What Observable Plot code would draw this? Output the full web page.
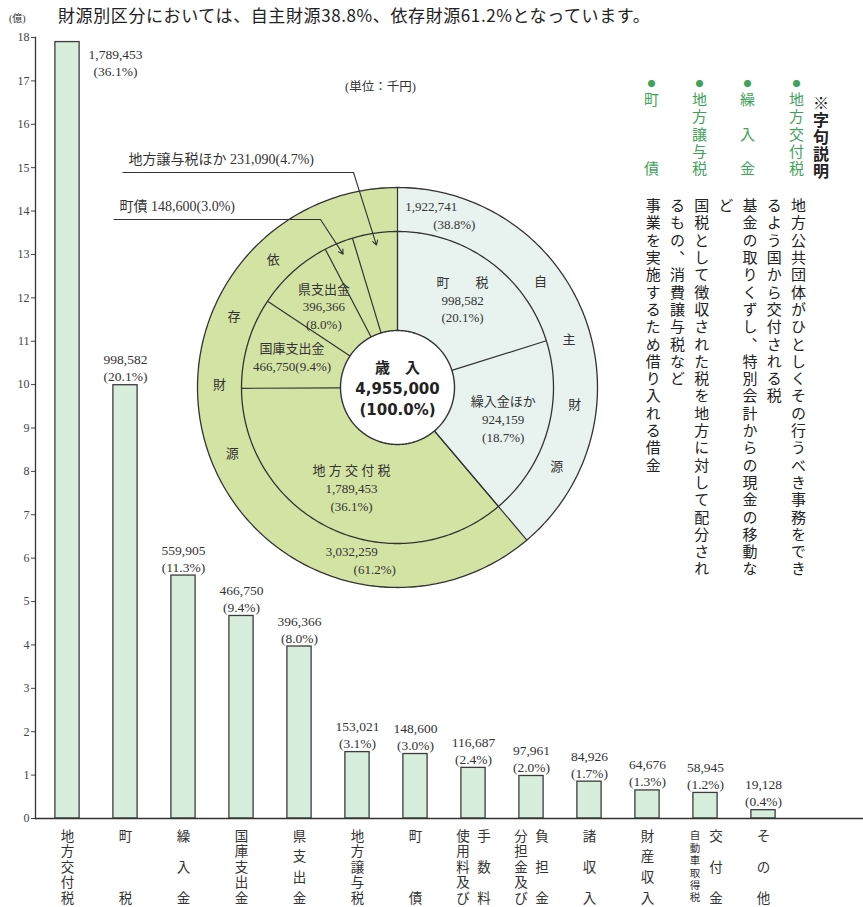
<!DOCTYPE html>
<html><head><meta charset="utf-8">
<script src="https://cdn.jsdelivr.net/npm/d3@7"></script>
<script src="https://cdn.jsdelivr.net/npm/@observablehq/plot@0.6"></script>
<style>
body{margin:0;background:#fff;}
#wrap{position:relative;width:863px;height:907px;overflow:hidden;font-family:"Noto Sans CJK JP",sans-serif;background:#fff;}
#bars,#pie{position:absolute;left:0;top:0;}
.abs{position:absolute;white-space:nowrap;}
.vcol{position:absolute;writing-mode:vertical-rl;font-size:15px;letter-spacing:2.3px;white-space:nowrap;color:#222;}
.g{color:#3fa45a;}
.dot{font-size:8px;letter-spacing:4px;}
</style></head><body>
<div id="wrap">
  <div id="bars"></div>
  <div id="pie"></div>
  <div class="abs" style="left:9px;top:10px;font-size:10px;color:#333;font-family:'Liberation Serif','Noto Sans CJK JP',serif;">(億)</div>
  <div class="abs" style="left:58px;top:4px;font-size:17px;letter-spacing:0.6px;line-height:22px;color:#222;">財源別区分においては、自主財源38.8%、依存財源61.2%となっています。</div>
  <div class="abs" style="left:345px;top:79px;font-size:12.5px;line-height:16px;color:#333;font-family:'Liberation Serif','Noto Sans CJK JP',serif;">(単位：千円)</div>
  <div class="vcol" style="left:809px;top:95px;font-weight:bold;font-size:16px;letter-spacing:1px;">※字句説明</div>
  <div class="vcol g" style="left:786px;top:80px;"><span class="dot">●</span>地方交付税</div>
  <div class="vcol g" style="left:737px;top:80px;"><span class="dot">●</span>繰　入　金</div>
  <div class="vcol g" style="left:689px;top:80px;"><span class="dot">●</span>地方譲与税</div>
  <div class="vcol g" style="left:641px;top:80px;"><span class="dot">●</span>町　　　債</div>
  <div class="vcol" style="left:640px;top:198px;width:170px;line-height:24.2px;height:420px;">地方公共団体がひとしくその行うべき事務をでき<br>るよう国から交付される税<br>基金の取りくずし、特別会計からの現金の移動な<br>ど<br>国税として徴収された税を地方に対して配分され<br>るもの、消費譲与税など<br>事業を実施するため借り入れる借金</div>
</div>
<script>
// ---- bar chart data (千円) ----
const categories = ["地方交付税","町税","繰入金","国庫支出金","県支出金","地方譲与税","町債","使用料及び手数料","分担金及び負担金","諸収入","財産収入","自動車取得税交付金","その他"];
const values = [1789453, 998582, 559905, 466750, 396366, 153021, 148600, 116687, 97961, 84926, 64676, 58945, 19128];
const shares = [36.1, 20.1, 11.3, 9.4, 8.0, 3.1, 3.0, 2.4, 2.0, 1.7, 1.3, 1.2, 0.4];
const tickLabelColumns = [["地方交付税"],["町税"],["繰入金"],["国庫支出金"],["県支出金"],["地方譲与税"],["町債"],["使用料及び","手数料"],["分担金及び","負担金"],["諸収入"],["財産収入"],["自動車取得税","交付金"],["その他"]];
const yTicks = [0,1,2,3,4,5,6,7,8,9,10,11,12,13,14,15,16,17,18];

// ---- pie data (千円) ----
const pieNames = ["町税","繰入金ほか","地方交付税","国庫支出金","県支出金","町債","地方譲与税ほか"];
const pieCaptions = ["町　　税","繰入金ほか","地 方 交 付 税","国庫支出金","県支出金","町債","地方譲与税ほか"];
const pieValues = [998582, 924159, 1789453, 466750, 396366, 148600, 231090];
const pieShares = [20.1, 18.7, 36.1, 9.4, 8.0, 3.0, 4.7];
const pieSource = ["自主財源","自主財源","依存財源","依存財源","依存財源","依存財源","依存財源"];
const sourceNames = ["自主財源","依存財源"];
const sourceValues = [1922741, 3032259];
const sourceShares = [38.8, 61.2];
const totalValue = 4955000;
const totalShare = 100.0;

const W = 863, H = 907;
const serif = '"Liberation Serif","Noto Sans CJK JP",serif';
const sans = '"Noto Sans CJK JP",sans-serif';
const fmt = d3.format(",");
const pct = v => `(${v.toFixed(1)}%)`;

// ================= bar chart =================
const barData = categories.map((c, i) => ({category: c, value: values[i], share: shares[i], oku: values[i] / 100000}));
const valueLabel = d => `${fmt(d.value)}\n${pct(d.share)}`;

const colItems = [];
tickLabelColumns.forEach((cols, i) => {
  cols.forEach((s, j) => {
    const chars = [...s];
    const off = cols.length === 1 ? 0 : (j === 0 ? -10.5 : 10.5);
    colItems.push({category: categories[i], text: chars.join("\n"), n: chars.length, off});
  });
});
// vertical tick labels: first glyph centred 17px below the baseline, last one SPAN px lower
const SPAN = 62, FS = 13.5, FIRST = 17;
const labelMarks = [];
for (const [n, byOff] of d3.groups(colItems, d => d.n, d => d.off)) {
  for (const [off, items] of byOff) {
    const fs = n > 5 ? 10.5 : FS;
    const step = n > 1 ? SPAN / (n - 1) : fs;
    labelMarks.push(Plot.text(items, {
      x: "category", y: () => 0, text: "text", dx: off,
      dy: FIRST + 0.38 * fs - 0.71 * step,
      lineAnchor: "top", lineHeight: step / fs,
      fontSize: fs, fill: "#333", fontFamily: sans
    }));
  }
}

const bars = Plot.plot({
  width: W, height: H,
  marginTop: 37, marginBottom: 89, marginLeft: 35, marginRight: 0,
  style: {fontFamily: serif, color: "#444", background: "transparent"},
  x: {domain: categories, range: [33.6, 796.7], padding: 0, axis: null},
  y: {domain: [0, 18], axis: null},
  marks: [
    Plot.barY(barData, {x: "category", y: "oku", fill: "#d7eedd", stroke: "#3b3b3b", strokeWidth: 1.3, insetLeft: 16.9, insetRight: 16.9}),
    Plot.text(barData.slice(1), {x: "category", y: "oku", text: valueLabel, lineAnchor: "bottom", dy: -4, fontSize: 13.5, lineHeight: 1.26, fill: "#333", fontFamily: serif}),
    Plot.text(barData.slice(0, 1), {x: "category", y: "oku", text: valueLabel, lineAnchor: "top", dx: 48, dy: 5, fontSize: 13.5, lineHeight: 1.26, fill: "#333", fontFamily: serif}),
    Plot.axisY({ticks: yTicks, tickSize: 4, tickPadding: 2, label: null, fontSize: 12, fontFamily: serif}),
    Plot.frame({anchor: "left", stroke: "#333", strokeWidth: 1.3}),
    Plot.ruleY([0], {stroke: "#333", strokeWidth: 1.3}),
    ...labelMarks
  ]
});
document.getElementById("bars").append(bars);

// ================= pie chart =================
const R = 200, CX = 397, CY = 387;
const R0 = 0.285, R1 = 0.78, R2 = 1;
const pieGen = d3.pie().sort(null).startAngle(0).endAngle(2 * Math.PI);
const innerArcs = pieGen(pieValues);
const outerArcs = pieGen(sourceValues);
const sourceColor = {"自主財源": "#e8f3ef", "依存財源": "#d3e3a4"};
const P = (a, r) => ({x: r * Math.sin(a), y: r * Math.cos(a)});
const deg = d => d * Math.PI / 180;

function ring(id, a0, a1, r0, r1, fill) {
  const n = Math.max(2, Math.ceil((a1 - a0) / 0.01));
  const out = [];
  for (let k = 0; k <= n; k++) out.push({id, fill, ...P(a0 + (a1 - a0) * k / n, r1)});
  for (let k = n; k >= 0; k--) out.push({id, fill, ...P(a0 + (a1 - a0) * k / n, r0)});
  return out;
}
function circle(id, r) {
  const out = [];
  for (let k = 0; k < 360; k++) out.push({id, ...P(deg(k), r)});
  return out;
}
const polys = [
  ...outerArcs.flatMap((a, i) => ring("o" + i, a.startAngle, a.endAngle, R1, R2, sourceColor[sourceNames[i]])),
  ...innerArcs.flatMap((a, i) => ring("i" + i, a.startAngle, a.endAngle, R0, R1, sourceColor[pieSource[i]]))
];
const circles = [...circle("c2", R2), ...circle("c1", R1)];
const hole = circle("c0", R0);
const dividers = [
  ...innerArcs.map(a => ({a: a.startAngle, r0: R0, r1: R1})),
  ...outerArcs.map(a => ({a: a.startAngle, r0: R0, r1: R2}))
];

const innerLabels = innerArcs.slice(0, 5).map((a, i) => {
  const p = P((a.startAngle + a.endAngle) / 2, 0.55);
  const text = pieNames[i] === "国庫支出金"
    ? `${pieCaptions[i]}\n${fmt(pieValues[i])}${pct(pieShares[i])}`
    : `${pieCaptions[i]}\n${fmt(pieValues[i])}\n${pct(pieShares[i])}`;
  return {...p, text};
});

// leader annotations for the two thin slices
const leaderLayout = [
  {slice: 6, elbow: {x: -0.22, y: 1.075}, start: -1.375},
  {slice: 5, elbow: {x: -0.385, y: 0.84}, start: -1.42}
];
const leaders = leaderLayout.map(L => {
  const a = innerArcs[L.slice];
  const tip = P((a.startAngle + a.endAngle) / 2, 0.72);
  return {
    x0: L.start, y0: L.elbow.y, ex: L.elbow.x, ey: L.elbow.y, tx: tip.x, ty: tip.y,
    text: `${pieNames[L.slice]} ${fmt(pieValues[L.slice])}${pct(pieShares[L.slice])}`
  };
});

// outer ring value labels
const sourceLabelAngles = [14, 192];
const sourceLabels = outerArcs.map((a, i) => ({...P(deg(sourceLabelAngles[i]), 0.885), v: fmt(sourceValues[i]), s: pct(sourceShares[i])}));
// ring characters 自主財源 / 依存財源
const ringCenter = [85, 282], ringStep = [21, -22.5];
const ringChars = sourceNames.flatMap((name, i) => [...name].map((ch, k) => ({ch, ...P(deg(ringCenter[i] + ringStep[i] * (k - 1.5)), 0.89)})));

const centerLines = [
  {text: "歳　入", y: 0.095},
  {text: fmt(totalValue), y: -0.01},
  {text: pct(totalShare), y: -0.115}
];

const pie = Plot.plot({
  width: W, height: H, margin: 0,
  style: {background: "transparent", fontFamily: serif},
  x: {domain: [-CX / R, (W - CX) / R], range: [0, W], axis: null},
  y: {domain: [CY / R, (CY - H) / R], range: [0, H], axis: null},
  color: {type: "identity"},
  marks: [
    Plot.line(polys, {x: "x", y: "y", z: "id", fill: "fill", stroke: null, curve: "linear-closed"}),
    Plot.line(circles, {x: "x", y: "y", z: "id", stroke: "#333", strokeWidth: 1.3, curve: "linear-closed"}),
    Plot.link(dividers, {x1: d => d.r0 * Math.sin(d.a), y1: d => d.r0 * Math.cos(d.a), x2: d => d.r1 * Math.sin(d.a), y2: d => d.r1 * Math.cos(d.a), stroke: "#333", strokeWidth: 1.2}),
    Plot.line(hole, {x: "x", y: "y", z: "id", fill: "#fff", stroke: "#333", strokeWidth: 1.4, curve: "linear-closed"}),
    Plot.text(innerLabels, {x: "x", y: "y", text: "text", fontSize: 13, lineHeight: 1.38, fill: "#333", fontFamily: serif}),
    Plot.text(sourceLabels, {x: "x", y: "y", text: "v", dx: -9, dy: -9, fontSize: 13, fill: "#333", fontFamily: serif}),
    Plot.text(sourceLabels, {x: "x", y: "y", text: "s", dx: 14, dy: 9, fontSize: 13, fill: "#333", fontFamily: serif}),
    Plot.text(ringChars, {x: "x", y: "y", text: "ch", fontSize: 13, fill: "#333", fontFamily: sans}),
    Plot.text(centerLines, {x: () => 0, y: "y", text: "text", fontSize: 15, fontWeight: "bold", fill: "#222", fontFamily: '"DejaVu Sans","Noto Sans CJK JP",sans-serif'}),
    Plot.link(leaders, {x1: "x0", y1: "y0", x2: "ex", y2: "ey", stroke: "#333", strokeWidth: 1.1}),
    Plot.arrow(leaders, {x1: "ex", y1: "ey", x2: "tx", y2: "ty", stroke: "#333", strokeWidth: 1.1, headLength: 7, bend: 0}),
    Plot.text(leaders, {x: "x0", y: "y0", text: "text", textAnchor: "start", dx: 6, dy: -13, fontSize: 14, fill: "#333", fontFamily: serif})
  ]
});
document.getElementById("pie").append(pie);
</script>
</body></html>
